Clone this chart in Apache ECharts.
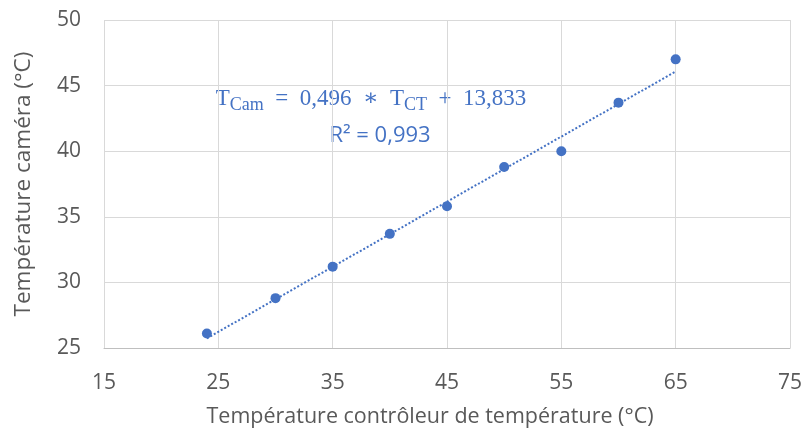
<!DOCTYPE html>
<html>
<head>
<meta charset="utf-8">
<script src="https://cdn.jsdelivr.net/npm/echarts@6/dist/echarts.min.js"></script>
<style>
  html, body { margin: 0; padding: 0; background: #fff; }
  #chart { width: 806px; height: 430px; }
</style>
</head>
<body>
<div id="chart"></div>
<script>
// Température du contrôleur (°C) et température mesurée par la caméra (°C)
const controllerTemps = [24, 30, 35, 40, 45, 50, 55, 60, 65];
const cameraTemps = [26.1, 28.8, 31.2, 33.7, 35.8, 38.8, 40.0, 43.7, 47.0];

// Régression linéaire affichée
const slope = 0.496;
const intercept = 13.833;
const rSquared = 0.993;

const xTicks = { min: 15, max: 75, interval: 10 };
const yTicks = { min: 25, max: 50, interval: 5 };

const blue = '#4472C4';
const grey = '#595959';
const sans = '"Open Sans", "Liberation Sans", sans-serif';
const serif = '"Liberation Serif", "DejaVu Serif", serif';

const points = controllerTemps.map((x, i) => [x, cameraTemps[i]]);
const xFirst = controllerTemps[0];
const xLast = controllerTemps[controllerTemps.length - 1];
const trend = [xFirst, xLast].map(x => [x, slope * x + intercept]);

const fmt = v => v.toFixed(3).replace('.', ',');

const chart = echarts.init(document.getElementById('chart'));
chart.setOption({
  animation: false,
  backgroundColor: '#fff',
  grid: { left: 104, right: 16, top: 20, bottom: 82, containLabel: false, outerBoundsMode: 'none' },
  xAxis: {
    type: 'value',
    min: xTicks.min, max: xTicks.max, interval: xTicks.interval,
    name: 'Température contrôleur de température (°C)',
    nameLocation: 'middle', nameGap: 58,
    nameTextStyle: { color: grey, fontSize: 21.5, fontFamily: sans, padding: [0, 34, 0, 0] },
    axisLine: { show: true, lineStyle: { color: '#BFBFBF', width: 1 } },
    axisTick: { show: false },
    axisLabel: { color: grey, fontSize: 21, fontFamily: sans, margin: 25 },
    splitLine: { show: true, lineStyle: { color: '#D9D9D9', width: 1 } }
  },
  yAxis: {
    type: 'value',
    min: yTicks.min, max: yTicks.max, interval: yTicks.interval,
    name: 'Température caméra (°C)',
    nameLocation: 'middle', nameGap: 69, nameRotate: 90,
    nameTextStyle: { color: grey, fontSize: 22.5, fontFamily: sans },
    axisLine: { show: false },
    axisTick: { show: false },
    axisLabel: { color: grey, fontSize: 21, fontFamily: sans, margin: 23 },
    splitLine: { show: true, lineStyle: { color: '#D9D9D9', width: 1 } }
  },
  series: [
    {
      type: 'line',
      data: trend,
      showSymbol: false,
      symbol: 'none',
      silent: true,
      lineStyle: { color: blue, width: 2, type: [2, 2] },
      z: 2
    },
    {
      type: 'scatter',
      data: points,
      symbol: 'circle',
      symbolSize: 10,
      itemStyle: { color: blue, opacity: 1 },
      z: 3
    }
  ],
  graphic: [
    {
      type: 'text',
      x: 371, y: 84,
      style: {
        text: '{t|T}{s|Cam}{t|  =  ' + fmt(slope) + '  ∗  T}{s|CT}{t|  +  ' + fmt(intercept) + '}',
        align: 'center', verticalAlign: 'top',
        rich: {
          t: { fontFamily: serif, fontSize: 23, fill: blue, lineHeight: 30, verticalAlign: 'middle' },
          s: { fontFamily: serif, fontSize: 18, fill: blue, lineHeight: 18, verticalAlign: 'bottom', padding: [19, 0, 0, 0] }
        }
      }
    },
    {
      type: 'text',
      x: 380, y: 136,
      style: {
        text: 'R² = ' + rSquared.toFixed(3).replace('.', ','),
        fill: blue, fontFamily: sans, fontSize: 22,
        align: 'center', verticalAlign: 'middle'
      }
    }
  ]
});
</script>
</body>
</html>
